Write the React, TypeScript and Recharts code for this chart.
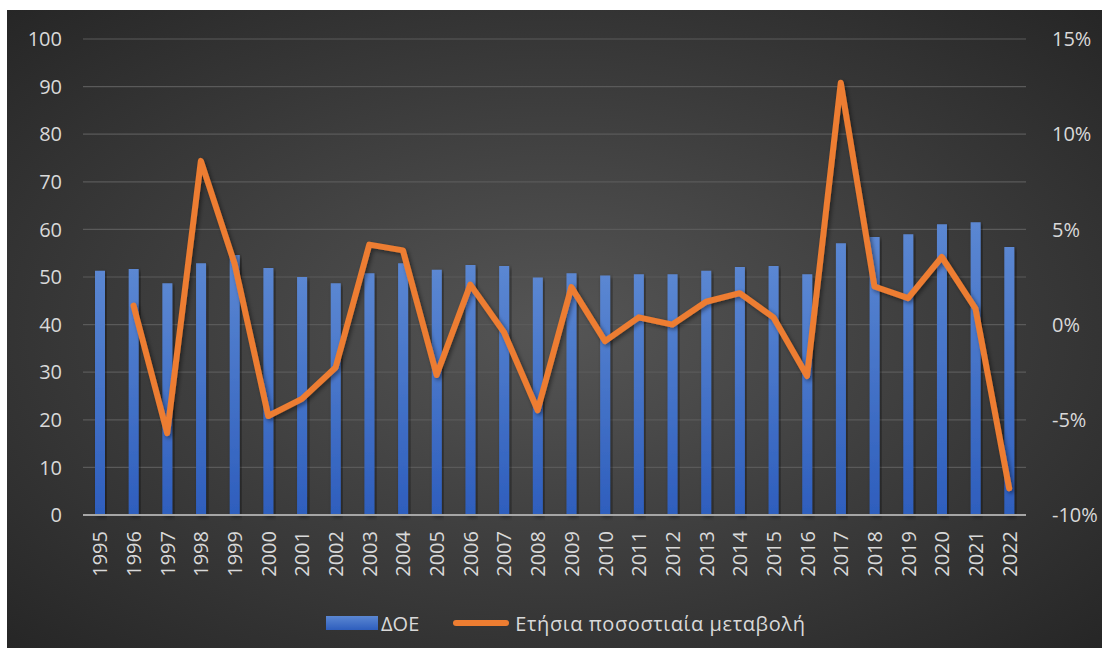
import React from 'react';
import { ComposedChart, Bar, Line, XAxis, YAxis, CartesianGrid } from 'recharts';

const years = [
  '1995', '1996', '1997', '1998', '1999', '2000', '2001', '2002', '2003', '2004',
  '2005', '2006', '2007', '2008', '2009', '2010', '2011', '2012', '2013', '2014',
  '2015', '2016', '2017', '2018', '2019', '2020', '2021', '2022',
];

// ΔΟΕ (left axis)
const doeValues = [
  51.3, 51.7, 48.7, 52.9, 54.6, 51.9, 50.0, 48.7, 50.8, 52.9,
  51.5, 52.5, 52.3, 49.9, 50.8, 50.3, 50.6, 50.6, 51.3, 52.1,
  52.3, 50.6, 57.1, 58.4, 59.0, 61.1, 61.5, 56.3,
];

// annual % change (right axis)
const changeValues: (number | null)[] = [
  null, 0.010, -0.057, 0.086, 0.032, -0.048, -0.039, -0.0225, 0.042, 0.039,
  -0.0265, 0.021, -0.004, -0.045, 0.0197, -0.0087, 0.0038, 0.0, 0.012, 0.0165,
  0.0038, -0.027, 0.127, 0.020, 0.0139, 0.0355, 0.0084, -0.086,
];

const leftTicks = [0, 10, 20, 30, 40, 50, 60, 70, 80, 90, 100];
const rightTicks = [-0.1, -0.05, 0, 0.05, 0.1, 0.15];

const barName = 'ΔΟΕ';
const lineName = 'Ετήσια ποσοστιαία μεταβολή';

const data = years.map((y, i) => ({ year: y, doe: doeValues[i], change: changeValues[i] }));

const FONT = '"Open Sans", "Noto Sans", sans-serif';
const TXT = '#d9d9d9';

function YearTick(props: any) {
  const { x, y, payload } = props;
  return (
    <text
      x={x}
      y={y}
      transform={`rotate(-90, ${x}, ${y})`}
      textAnchor="end"
      dominantBaseline="central"
      fill={TXT}
      fontSize={20}
      fontFamily={FONT}
    >
      {payload.value}
    </text>
  );
}

export default function App() {
  return (
    <div style={{ position: 'absolute', left: 0, top: 0, width: 1102, height: 650, background: '#fff' }}>
      <div
        style={{
          position: 'absolute',
          left: 7,
          top: 10,
          width: 1095,
          height: 638,
          background: 'radial-gradient(ellipse farthest-corner at 50% 50%, #555555 0%, #3b3b3b 55%, #262626 100%)',
        }}
      >
        <ComposedChart
          width={1095}
          height={638}
          data={data}
          margin={{ top: 29, right: 0, left: 0, bottom: 63 }}
          barCategoryGap={0}
        >
          <defs>
            <linearGradient id="barGrad" x1="0" y1="0" x2="0" y2="1">
              <stop offset="0%" stopColor="#5b87d2" />
              <stop offset="100%" stopColor="#2e5ebd" />
            </linearGradient>
            <filter id="shadow" x="-20%" y="-20%" width="140%" height="140%">
              <feDropShadow dx="2" dy="2" stdDeviation="2" floodColor="#000" floodOpacity="0.45" />
            </filter>
          </defs>
          <CartesianGrid vertical={false} stroke="#5a5a5a" strokeWidth={1.2} yAxisId="left" />
          <XAxis
            dataKey="year"
            tick={<YearTick />}
            tickLine={false}
            tickSize={0}
            tickMargin={16}
            interval={0}
            height={70}
            axisLine={{ stroke: '#a6a6a6', strokeWidth: 2 }}
          />
          <YAxis
            yAxisId="left"
            domain={[0, 100]}
            ticks={leftTicks}
            width={76}
            axisLine={false}
            tickLine={false}
            tickSize={0}
            tickMargin={21}
            tick={{ fill: TXT, fontSize: 20, fontFamily: FONT }}
          />
          <YAxis
            yAxisId="right"
            orientation="right"
            domain={[-0.1, 0.15]}
            ticks={rightTicks}
            width={76}
            axisLine={false}
            tickLine={false}
            tickSize={0}
            tickMargin={26}
            tickFormatter={(v: number) => `${Math.round(v * 100)}%`}
            tick={{ fill: TXT, fontSize: 20, fontFamily: FONT, textAnchor: 'start' }}
          />
          <Bar
            yAxisId="left"
            dataKey="doe"
            name={barName}
            barSize={10}
            fill="url(#barGrad)"
            filter="url(#shadow)"
            isAnimationActive={false}
          />
          <Line
            yAxisId="right"
            dataKey="change"
            name={lineName}
            type="linear"
            stroke="#ed7d31"
            strokeWidth={6}
            strokeLinejoin="round"
            strokeLinecap="round"
            dot={false}
            activeDot={false}
            connectNulls={false}
            filter="url(#shadow)"
            isAnimationActive={false}
          />
        </ComposedChart>
        <div
          style={{
            position: 'absolute',
            left: 319,
            top: 595,
            height: 36,
            display: 'flex',
            alignItems: 'center',
            fontFamily: FONT,
            fontSize: 20,
            color: TXT,
            whiteSpace: 'nowrap',
          }}
        >
          <span style={{ display: 'inline-block', width: 52, height: 14, background: 'linear-gradient(#5b87d2, #2e5ebd)' }} />
          <span style={{ marginLeft: 3 }}>{barName}</span>
          <span
            style={{
              display: 'inline-block',
              width: 56,
              height: 6,
              borderRadius: 3,
              background: '#ed7d31',
              marginLeft: 34,
            }}
          />
          <span style={{ marginLeft: 6, letterSpacing: 0.6 }}>{lineName}</span>
        </div>
      </div>
    </div>
  );
}
